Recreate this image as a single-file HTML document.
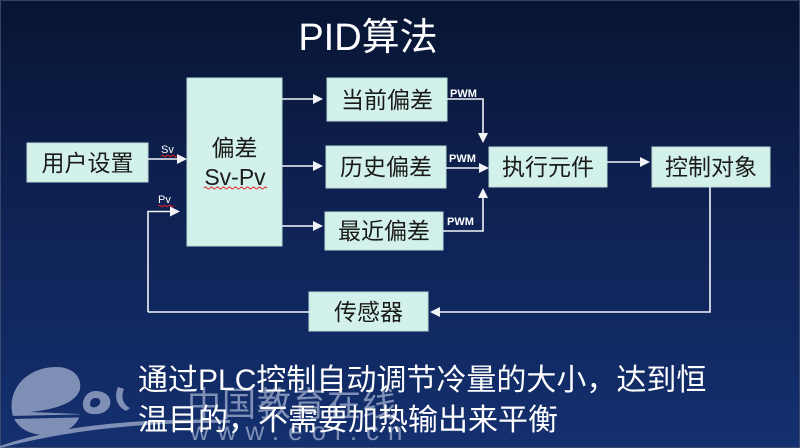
<!DOCTYPE html>
<html><head><meta charset="utf-8"><style>
html,body{margin:0;padding:0;width:800px;height:448px;overflow:hidden;background:#0c1d48;}
svg{display:block}
.bx{fill:#d2f1ea;stroke:#b9dcd5;stroke-width:1}
.t{font-family:"Liberation Sans","Noto Sans CJK SC",sans-serif;font-size:23px;fill:#1b1b1b;text-anchor:middle;dominant-baseline:central}
.ln{stroke:#f2f4fa;stroke-width:1.6;fill:none}
.ah{fill:#f2f4fa}
.lb{font-family:"Liberation Sans",sans-serif;font-size:11px;fill:#ffffff;font-weight:bold}
.lbn{font-family:"Liberation Sans",sans-serif;font-size:11px;fill:#ffffff;font-weight:normal}
</style></head><body>
<svg width="800" height="448" viewBox="0 0 800 448" xmlns="http://www.w3.org/2000/svg">
<defs>
<linearGradient id="bg" x1="0" y1="0" x2="0" y2="1">
<stop offset="0" stop-color="#081533"/>
<stop offset="0.45" stop-color="#0e2152"/>
<stop offset="1" stop-color="#14306f"/>
</linearGradient>
</defs>
<rect x="0" y="0" width="800" height="448" fill="url(#bg)"/>
<rect x="0.5" y="0.5" width="799" height="447" fill="none" stroke="#4a5578" stroke-width="1" opacity="0.7"/>

<!-- title -->
<text x="368" y="50" font-family="'Liberation Sans','Noto Sans CJK SC',sans-serif" font-size="38" fill="#ffffff" text-anchor="middle">PID算法</text>

<!-- watermark -->
<g opacity="0.75" fill="#a3b0cf">
<path d="M12,412 C8,386 30,367 56,367 C74,367 82,378 80,389 C77,401 60,409 30,412 L80,414 C78,427 62,435 45,435 C27,435 14,425 12,412 Z"/>
<path d="M96,391 C106,391 112,398 110,405 C108,412 100,415 92,414 C84,413 81,406 84,399 C86,394 90,391 96,391 Z M95,398 C92,398 90,401 90,404 C90,407 93,408 96,407 C99,406 101,403 100,400 C99,398 97,398 95,398 Z" fill-rule="evenodd"/>
<path d="M118,387 C114,396 116,406 126,411 L130,408 C122,404 121,396 124,389 Z"/>
<path d="M0,446 C60,425 140,418 230,420 L230,423 C140,422 70,430 0,448 Z"/>
<path d="M12,416 L140,413 L140,416 L12,419 Z" fill="#13306e"/>
<text x="187" y="416" font-family="'Noto Sans CJK SC',sans-serif" font-size="34" letter-spacing="1">中国教育在线</text>
<text x="190" y="440" font-family="'Liberation Sans',sans-serif" font-size="26" letter-spacing="9">www.eol.cn</text>
</g>

<!-- boxes -->
<rect class="bx" x="27" y="143" width="121" height="39"/>
<text class="t" x="87.5" y="163">用户设置</text>

<rect class="bx" x="187" y="78" width="95" height="168"/>
<text class="t" x="234.5" y="148">偏差</text>
<text class="t" x="235" y="177">Sv-Pv</text>
<path d="M204,188 q1.5,-2 3,0 t3,0 t3,0 t3,0 t3,0 t3,0 t3,0 t3,0 t3,0 t3,0 t3,0 t3,0 t3,0 t3,0 t3,0 t3,0 t3,0 t3,0 t3,0 t3,0 t3,0" stroke="#e02020" stroke-width="1" fill="none"/>

<rect class="bx" x="327" y="78" width="120" height="43"/>
<text class="t" x="387" y="100">当前偏差</text>
<rect class="bx" x="326" y="146" width="120" height="42"/>
<text class="t" x="386" y="167">历史偏差</text>
<rect class="bx" x="325" y="212" width="118" height="38"/>
<text class="t" x="384" y="231">最近偏差</text>

<rect class="bx" x="489" y="147" width="118" height="40"/>
<text class="t" x="548" y="167">执行元件</text>
<rect class="bx" x="652" y="147" width="118" height="40"/>
<text class="t" x="711" y="167">控制对象</text>

<rect class="bx" x="309" y="292" width="119" height="39"/>
<text class="t" x="368.5" y="312">传感器</text>

<!-- connectors -->
<path class="ln" d="M148,159 H179"/>
<polygon class="ah" points="187,159 177,154 177,164"/>
<text class="lbn" x="161" y="153">Sv</text>
<path d="M161,156 q1.3,-1.6 2.6,0 t2.6,0 t2.6,0 t2.6,0 t2.6,0 t2.6,0" stroke="#e02020" stroke-width="1" fill="none"/>

<path class="ln" d="M148,312 V211.5 H172"/>
<polygon class="ah" points="180,211.5 170,206.5 170,216.5"/>
<text class="lbn" x="158" y="203">Pv</text>
<path d="M158,206 q1.3,-1.6 2.6,0 t2.6,0 t2.6,0 t2.6,0 t2.6,0 t2.6,0" stroke="#e02020" stroke-width="1" fill="none"/>

<path class="ln" d="M282,99 H315"/>
<polygon class="ah" points="323,99 313,94 313,104"/>
<path class="ln" d="M282,166 H315"/>
<polygon class="ah" points="323,166 313,161 313,171"/>
<path class="ln" d="M282,226 H315"/>
<polygon class="ah" points="323,226 313,221 313,231"/>

<path class="ln" d="M447,99 H483 V135"/>
<polygon class="ah" points="483,143 478,133 488,133"/>
<text class="lb" x="450" y="97">PWM</text>

<path class="ln" d="M446,168 H481"/>
<polygon class="ah" points="489,168 479,163 479,173"/>
<text class="lb" x="449" y="162">PWM</text>

<path class="ln" d="M443,231 H483 V196"/>
<polygon class="ah" points="483,188 478,198 488,198"/>
<text class="lb" x="447" y="225">PWM</text>

<path class="ln" d="M607,162 H642"/>
<polygon class="ah" points="650,162 640,157 640,167"/>

<path class="ln" d="M710,187 V312 H438"/>
<polygon class="ah" points="430,312 440,307 440,317"/>
<path class="ln" d="M309,312 H148"/>

<!-- bottom text -->
<g font-family="'Liberation Sans','Noto Sans CJK SC',sans-serif" font-size="30" fill="#ffffff">
<text x="138" y="390">通过PLC控制自动调节冷量的大小，达到恒</text>
<text x="138" y="430">温目的，不需要加热输出来平衡</text>
</g>
</svg>
</body></html>
